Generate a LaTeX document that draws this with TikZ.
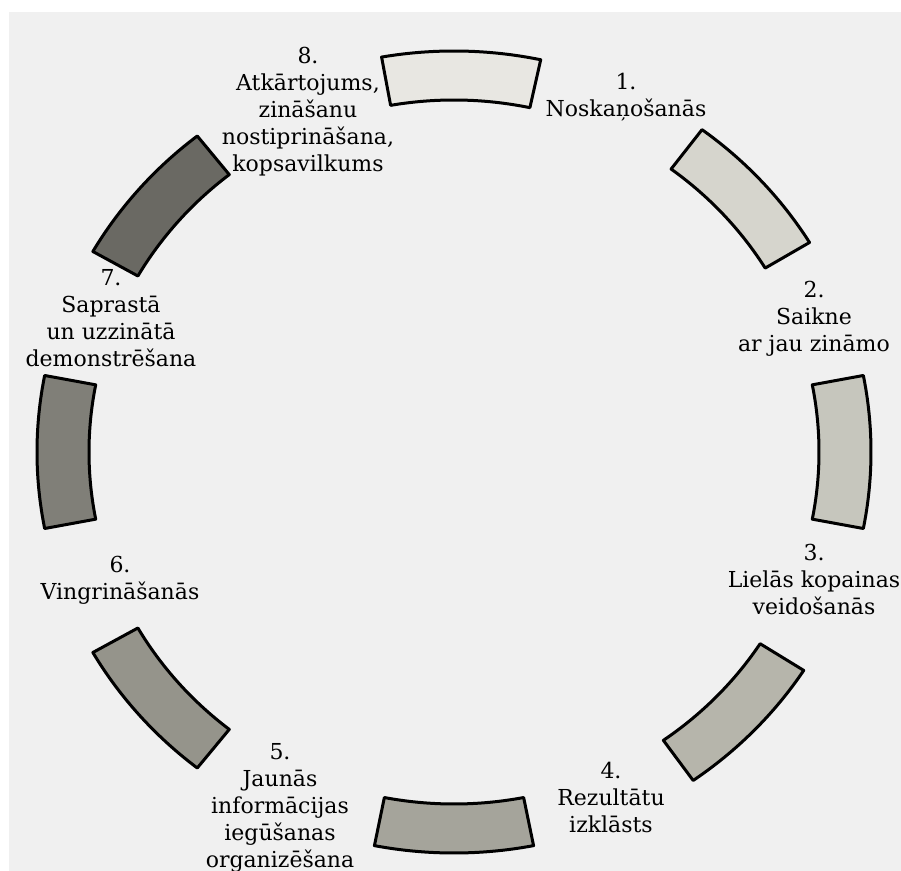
\documentclass[tikz,border=0pt]{standalone}
\usepackage{fontspec}
\setmainfont{DejaVu Serif}
\usepackage{tikz}
\usetikzlibrary{positioning}
\definecolor{bggray}{RGB}{240,240,240}
\definecolor{shadeA}{RGB}{232,231,226}
\definecolor{shadeB}{RGB}{214,213,205}
\definecolor{shadeC}{RGB}{198,198,189}
\definecolor{shadeD}{RGB}{182,181,171}
\definecolor{shadeE}{RGB}{165,164,155}
\definecolor{shadeF}{RGB}{149,148,139}
\definecolor{shadeG}{RGB}{128,127,120}
\definecolor{shadeH}{RGB}{106,105,99}
\tikzset{
	ringpart/.style={draw=black, line width=1.5pt, line join=round}
}
\tikzset{
	phase/.style={align=center, inner sep=0pt, font=\fontsize{11}{13.5}\selectfont}
}

\begin{document}
\begin{tikzpicture}[x=0.5pt, y=-0.5pt]
      \useasboundingbox (0,0) rectangle (901,871);
      \fill[white] (0,0) rectangle (901,871);
      \fill[bggray] (9,12) rectangle (901,871);
      \coordinate (c) at (454,452);
      % ring of eight parts, angles counted as on paper
      \foreach \a/\col in {89/shadeA, 42.5/shadeB, 0/shadeC, -44/shadeD, -90/shadeE, -139/shadeF, 180/shadeG, 139/shadeH} {
        \pgfmathsetmacro\s{0-(\a)-11}
        \pgfmathsetmacro\e{0-(\a)+11}
        \path[ringpart, fill=\col, shift={(c)}]
          (\s:417 and 401) arc[start angle=\s, end angle=\e, x radius=417, y radius=401]
          -- (\e:365 and 352) arc[start angle=\e, end angle=\s, x radius=365, y radius=352]
          -- cycle;
      }
      \node[phase] (p1) at (626,97) {1.\\Noskaņošanās};
      \node[phase] (p2) at (814,319) {2.\\Saikne\\ar jau zināmo};
      \node[phase] (p3) at (814,579) {3.\\Lielās kopainas\\veidošanās};
      \node[phase] (p4) at (611,797) {4.\\Rezultātu\\izklāsts};
      \node[phase] (p5) at (280,808) {5.\\Jaunās\\informācijas\\iegūšanas\\organizēšana};
      \node[phase] (p6) at (120,580) {6.\\Vingrināšanās};
      \node[phase] (p7) at (111,318) {7.\\Saprastā\\un uzzinātā\\demonstrēšana};
      \node[phase] (p8) at (308,112) {8.\\Atkārtojums,\\zināšanu\\nostiprināšana,\\kopsavilkums};
\end{tikzpicture}
\end{document}
